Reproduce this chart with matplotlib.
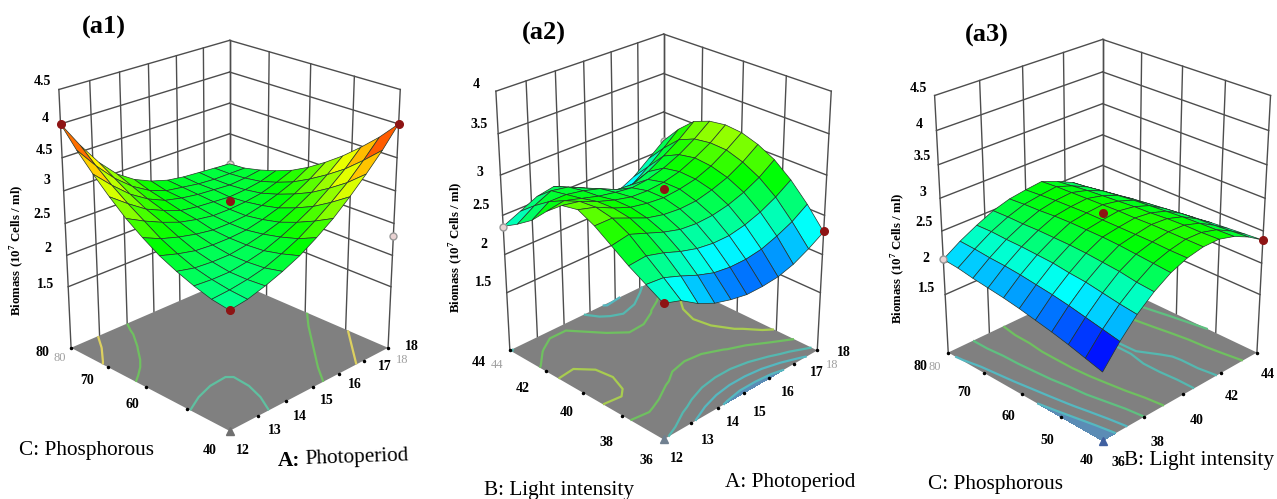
import matplotlib
matplotlib.use('Agg')
import matplotlib.pyplot as plt
import numpy as np
from matplotlib.colors import LinearSegmentedColormap, Normalize

plt.rcParams['font.family'] = ['Liberation Serif', 'DejaVu Serif']
plt.rcParams['mathtext.fontset'] = 'custom'
plt.rcParams['mathtext.bf'] = 'Liberation Serif:bold'
plt.rcParams['mathtext.rm'] = 'Liberation Serif'

W, H = 1277, 499

photoperiod = [12, 13, 14, 15, 16, 17, 18]
light = [36, 38, 40, 42, 44]
phosphorous = [40, 50, 60, 70, 80]

a1_biomass = [
    [2.30, 2.34, 2.42, 2.52, 2.64, 2.80, 2.98, 3.20, 3.44, 3.70, 4.00],
    [2.34, 2.36, 2.40, 2.46, 2.56, 2.68, 2.84, 3.00, 3.18, 3.38, 3.60],
    [2.42, 2.40, 2.40, 2.44, 2.50, 2.60, 2.72, 2.82, 2.95, 3.10, 3.25],
    [2.52, 2.46, 2.44, 2.44, 2.48, 2.54, 2.62, 2.70, 2.78, 2.88, 2.98],
    [2.64, 2.56, 2.50, 2.48, 2.48, 2.50, 2.56, 2.60, 2.66, 2.72, 2.80],
    [2.80, 2.68, 2.60, 2.54, 2.50, 2.50, 2.52, 2.56, 2.60, 2.62, 2.68],
    [2.98, 2.84, 2.72, 2.62, 2.56, 2.52, 2.52, 2.54, 2.56, 2.58, 2.60],
    [3.20, 3.02, 2.86, 2.74, 2.64, 2.58, 2.54, 2.52, 2.54, 2.54, 2.56],
    [3.44, 3.22, 3.04, 2.88, 2.76, 2.66, 2.58, 2.54, 2.52, 2.52, 2.54],
    [3.70, 3.46, 3.24, 3.06, 2.90, 2.76, 2.66, 2.58, 2.54, 2.52, 2.52],
    [4.00, 3.72, 3.48, 3.26, 3.07, 2.90, 2.76, 2.66, 2.58, 2.52, 2.50],
]
a2_biomass = [
    [2.40, 2.52, 2.64, 2.78, 2.92, 3.02, 2.98, 2.82, 2.62, 2.48, 2.36],
    [2.33, 2.50, 2.66, 2.82, 2.92, 2.96, 2.94, 2.86, 2.76, 2.62, 2.46],
    [2.19, 2.42, 2.60, 2.74, 2.83, 2.86, 2.85, 2.80, 2.76, 2.72, 2.56],
    [2.09, 2.33, 2.52, 2.66, 2.74, 2.78, 2.78, 2.74, 2.72, 2.68, 2.60],
    [2.03, 2.26, 2.46, 2.60, 2.69, 2.74, 2.73, 2.70, 2.66, 2.58, 2.50],
    [1.99, 2.23, 2.43, 2.58, 2.67, 2.72, 2.72, 2.67, 2.56, 2.42, 2.30],
    [1.99, 2.23, 2.43, 2.59, 2.68, 2.74, 2.74, 2.69, 2.54, 2.32, 2.18],
    [2.01, 2.26, 2.47, 2.63, 2.73, 2.78, 2.79, 2.75, 2.62, 2.38, 2.20],
    [2.07, 2.33, 2.54, 2.70, 2.80, 2.86, 2.88, 2.84, 2.74, 2.52, 2.30],
    [2.17, 2.42, 2.64, 2.80, 2.91, 2.98, 2.99, 2.96, 2.87, 2.68, 2.46],
    [2.29, 2.55, 2.77, 2.94, 3.05, 3.12, 3.14, 3.11, 3.03, 2.85, 2.62],
]
# a3: rows along light intensity, columns along phosphorous
a3_biomass = [
    [1.60, 1.67, 1.74, 1.80, 1.85, 1.90, 1.94, 1.97, 2.00, 2.04, 2.06],
    [1.92, 1.97, 2.02, 2.07, 2.11, 2.14, 2.17, 2.19, 2.20, 2.22, 2.23],
    [2.19, 2.22, 2.26, 2.30, 2.32, 2.35, 2.36, 2.37, 2.37, 2.38, 2.37],
    [2.40, 2.42, 2.46, 2.48, 2.50, 2.51, 2.51, 2.51, 2.50, 2.50, 2.49],
    [2.56, 2.58, 2.60, 2.62, 2.63, 2.63, 2.63, 2.62, 2.60, 2.59, 2.57],
    [2.66, 2.66, 2.67, 2.67, 2.67, 2.67, 2.67, 2.66, 2.65, 2.63, 2.61],
    [2.71, 2.71, 2.71, 2.71, 2.70, 2.70, 2.69, 2.68, 2.67, 2.66, 2.64],
    [2.71, 2.70, 2.70, 2.69, 2.67, 2.66, 2.64, 2.62, 2.60, 2.57, 2.54],
    [2.64, 2.63, 2.62, 2.61, 2.59, 2.57, 2.55, 2.52, 2.49, 2.45, 2.42],
    [2.52, 2.50, 2.48, 2.47, 2.45, 2.42, 2.39, 2.36, 2.32, 2.28, 2.24],
    [2.36, 2.34, 2.32, 2.30, 2.27, 2.24, 2.20, 2.15, 2.10, 2.04, 1.98],
]
a1_ztick = [1.5, 2, 2.5, 3, 3.5, 4, 4.5]
a2_ztick = [1.5, 2, 2.5, 3, 3.5, 4]
a3_ztick = [1.5, 2, 2.5, 3, 3.5, 4, 4.5]

# design points: x, y, biomass. first pale point sits in front of the surface
a1_red = ([12, 18, 15, 12], [80, 40, 60, 40], [4.0, 4.0, 2.85, 2.3])
a1_pale = ([18, 18], [40, 80], [2.3, 2.5])
a2_red = ([18, 15, 12], [36, 40, 36], [2.3, 2.83, 2.4])
a2_pale = ([12, 18], [44, 44], [2.35, 2.62])
a3_red = ([44, 40], [40, 60], [2.36, 2.78])
a3_pale = ([36, 36], [80, 40], [2.06, 1.55])

rainbow = LinearSegmentedColormap.from_list(
    'de', ['#0000ff', '#00ffff', '#00ff00', '#ffff00', '#ff0000'])


def px_text(x, y, s, size=10, weight='bold', color='black', **kw):
    kw.setdefault('ha', 'center')
    kw.setdefault('va', 'center')
    fig.text(x / W, 1 - y / H, s, fontsize=size, fontweight=weight, color=color, **kw)


def draw_panel(cx, cy, xt, yt, zt, table, zlo, elev, aspect, vlim, zoom,
               levels, level_colors, fill, red, pale, tri):
    size = 560
    ax = fig.add_axes([(cx - size / 2) / W, 1 - (cy + size / 2) / H, size / W, size / H],
                      projection='3d')
    ax.patch.set_alpha(0)
    ax.set_proj_type('persp', focal_length=FOCAL)
    ax.view_init(elev=elev, azim=-135)
    ax.set_box_aspect((1, 1, aspect), zoom=zoom)
    ax.computed_zorder = False
    ax.set_axis_off()

    zhi = zt[-1]
    ax.set_xlim(xt[0], xt[-1])
    ax.set_ylim(yt[0], yt[-1])
    ax.set_zlim(zlo, zhi)

    grid = dict(color='#4d4d4d', lw=1.0, zorder=1)
    # back walls
    for v in xt:
        ax.plot([v, v], [yt[-1], yt[-1]], [zlo, zhi], **grid)
    for v in yt:
        ax.plot([xt[-1], xt[-1]], [v, v], [zlo, zhi], **grid)
    for v in zt:
        ax.plot([xt[0], xt[-1]], [yt[-1], yt[-1]], [v, v], **grid)
        ax.plot([xt[-1], xt[-1]], [yt[0], yt[-1]], [v, v], **grid)

    ax.plot(pale[0][1:], pale[1][1:], pale[2][1:], ls='none', marker='o', ms=5,
            mfc='#e9d2d2', mec='#999999', zorder=1.5)

    # floor and its contours
    fx, fy = np.meshgrid([xt[0], xt[-1]], [yt[0], yt[-1]], indexing='ij')
    ax.plot_surface(fx, fy, np.full(fx.shape, zlo), color='#808080', shade=False,
                    linewidth=0, zorder=2)
    gx = np.linspace(xt[0], xt[-1], len(table))
    gy = np.linspace(yt[0], yt[-1], len(table[0]))
    X, Y = np.meshgrid(gx, gy, indexing='ij')
    Z = np.array(table)
    if fill is not None:
        ax.contourf(X, Y, Z, levels=[0, fill], colors=['#5b8cb5'], zdir='z', offset=zlo, zorder=2.5)
    ax.contour(X, Y, Z, levels=levels, colors=level_colors, linewidths=1.6,
               zdir='z', offset=zlo, zorder=3)
    ax.plot(xt, [yt[0]] * len(xt), [zlo] * len(xt), ls='none', marker='.', ms=3, color='black', zorder=3)
    ax.plot([xt[0]] * len(yt), yt, [zlo] * len(yt), ls='none', marker='.', ms=3, color='black', zorder=3)
    ax.plot([xt[0]], [yt[0]], [zlo], ls='none', marker='^', ms=6, color=tri, zorder=3.2)

    ax.plot_surface(X, Y, Z, cmap=rainbow, norm=Normalize(*vlim), rstride=1, cstride=1,
                    edgecolor='#26352a', linewidth=0.5, antialiased=True, shade=False, zorder=4)

    ax.plot(red[0], red[1], red[2], ls='none', marker='o', ms=5.5, color='#8e1414', zorder=5)
    ax.plot(pale[0][:1], pale[1][:1], pale[2][:1], ls='none', marker='o', ms=5,
            mfc='#e9d2d2', mec='#999999', zorder=5)


FOCAL = 0.5

fig = plt.figure(figsize=(W / 100, H / 100), dpi=100)

draw_panel(222, 231, photoperiod, phosphorous, a1_ztick, a1_biomass, 0.5, 23.5, 1.21, (1.4, 3.95), 0.75,
           [2.45, 2.92, 3.4], ['#5fc0a0', '#6fc060', '#dcd060'], None, a1_red, a1_pale, '#707070')
draw_panel(656, 234, photoperiod, light, a2_ztick, a2_biomass, 0.72, 27, 1.28, (1.9, 3.7), 0.75,
           [2.05, 2.2, 2.38, 2.64, 2.88], ['#55b8c0', '#55b8c0', '#55b8b0', '#6fc060', '#a8cc50'],
           2.05, a2_red, a2_pale, '#708090')
draw_panel(1095, 237, light, phosphorous, a3_ztick, a3_biomass, 0.55, 26.5, 1.26, (1.75, 3.55), 0.747,
           [1.85, 2.05, 2.3, 2.52, 2.695], ['#55b8c0', '#55b8c0', '#5fc080', '#6fc060', '#55b8b0'],
           1.85, a3_red, a3_pale, '#4060a0')

# panel letters
px_text(104, 27, '(a1)', size=19)
px_text(544, 33, '(a2)', size=19)
px_text(987, 35, '(a3)', size=19)

# biomass axis titles
for x, y in [(17, 250), (456, 247), (898, 258)]:
    px_text(x, y, r'Biomass (10$^{\mathbf{7}}$ Cells / ml)', size=9.3, rotation=90)

# axis tick labels, placed where the reference has them
z_a1 = [('4.5', 42, 82), ('4', 45, 118), ('4.5', 44, 150), ('3', 47, 181), ('2.5', 42, 215), ('2', 48, 249), ('1.5', 46, 284)]
z_a2 = [('4', 476, 84), ('3.5', 479, 124), ('3', 480, 172), ('2.5', 481, 205), ('2', 484, 245), ('1.5', 484, 283)]
z_a3 = [('4.5', 918, 88), ('4', 919, 124), ('3.5', 922, 157), ('3', 923, 193), ('2.5', 924, 222), ('2', 926, 258), ('1.5', 927, 288)]
floor_a1 = [('80', 42, 352), ('70', 87, 380), ('60', 132, 404), ('40', 210, 451), ('12', 243, 451), ('13', 275, 431),
            ('14', 300, 416), ('15', 327, 400), ('16', 355, 384), ('17', 385, 366), ('18', 412, 347)]
floor_a2 = [('44', 479, 362), ('42', 523, 388), ('40', 567, 413), ('38', 606, 442), ('36', 646, 461), ('12', 677, 459),
            ('13', 708, 440), ('14', 733, 423), ('15', 760, 412), ('16', 788, 392), ('17', 817, 373), ('18', 844, 352)]
floor_a3 = [('80', 920, 366), ('70', 964, 393), ('60', 1008, 416), ('50', 1047, 440), ('40', 1087, 460), ('36', 1118, 462),
            ('38', 1157, 442), ('40', 1197, 420), ('42', 1232, 397), ('44', 1268, 374)]
for group in [z_a1, z_a2, z_a3, floor_a1, floor_a2, floor_a3]:
    for s, x, y in group:
        px_text(x, y, s, size=10)

ghost = [('80', 60, 358), ('18', 402, 360), ('44', 497, 365), ('18', 832, 365), ('80', 935, 367)]
for s, x, y in ghost:
    px_text(x, y, s, size=9, weight='normal', color='#a0a0a0')

# axis names
px_text(19, 450, 'C: Phosphorous', size=15.3, weight='normal', ha='left')
px_text(278, 461, 'A:', size=15.3, ha='left')
px_text(305, 458, 'Photoperiod', size=15.3, weight='normal', ha='left', rotation=2)
px_text(484, 490, 'B: Light intensity', size=15.3, weight='normal', ha='left')
px_text(725, 482, 'A: Photoperiod', size=15.3, weight='normal', ha='left')
px_text(928, 484, 'C: Phosphorous', size=15.3, weight='normal', ha='left')
px_text(1124, 460, 'B: Light intensity', size=15.3, weight='normal', ha='left')

fig.savefig('out.png', dpi=100)
